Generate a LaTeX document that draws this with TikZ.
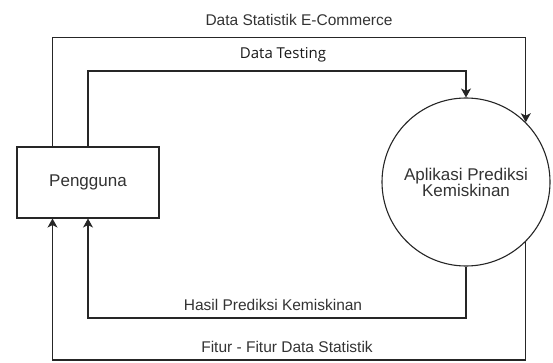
\documentclass[tikz,border=0pt]{standalone}
\usepackage{fontspec}
\setmainfont{Liberation Sans}
\newfontfamily\testfont{Open Sans}
\usepackage{tikz}
\usetikzlibrary{arrows.meta}
\usetikzlibrary{positioning}

\begin{document}
\begin{tikzpicture}[x=1pt, y=-1pt,
  flow/.style={draw=black!85, line width=1.1pt, -{Stealth[length=9pt, width=10pt, inset=2.5pt]}},
  entity/.style={rectangle, draw=black!85, line width=1.1pt, fill=white, minimum width=142pt, minimum height=71pt, text=black!80, font=\fontsize{17}{19}\selectfont},
  process/.style={circle, draw=black!85, line width=1.1pt, fill=white, minimum size=168pt, inner sep=0pt, align=center, text=black!80, font=\fontsize{17}{16}\selectfont},
  label/.style={anchor=base, text=black!80, inner sep=0pt, font=\fontsize{15.5}{18}\selectfont}]

\useasboundingbox (0,0) rectangle (553,363);
%\draw[step=10pt, gray, very thin, dotted] (0,0) grid (553,363);

\node at (88,182.5) [entity] (user) {Pengguna};
\node at (466,182) [process] (app) {Aplikasi Prediksi\\Kemiskinan};

\coordinate (outL) at (52.5,37.7);
\coordinate (inTop) at (0,71);
\coordinate (inBot) at (0,318);
\coordinate (outBot) at (0,360);

\draw[flow] (user.north -| outL) -- (outL) -| (app.north east);
\draw[flow] (user.north) -- (user.north |- inTop) -| (app.north);
\draw[flow] (app.south) -- (app.south |- inBot) -| (user.south);
\draw[flow] (app.south east) -- (app.south east |- outBot) -| (user.south -| outL);

\node at (299,26) [label] (lblstat) {Data Statistik E-Commerce};
\node at (283,59) [label, text=black!90, font=\testfont\fontsize{15}{18}\selectfont] (lbltest) {Data Testing};
\node at (273,310) [label] (lblhasil) {Hasil Prediksi Kemiskinan};
\node at (287,352) [label] (lblfitur) {Fitur - Fitur Data Statistik};

\end{tikzpicture}
\end{document}
